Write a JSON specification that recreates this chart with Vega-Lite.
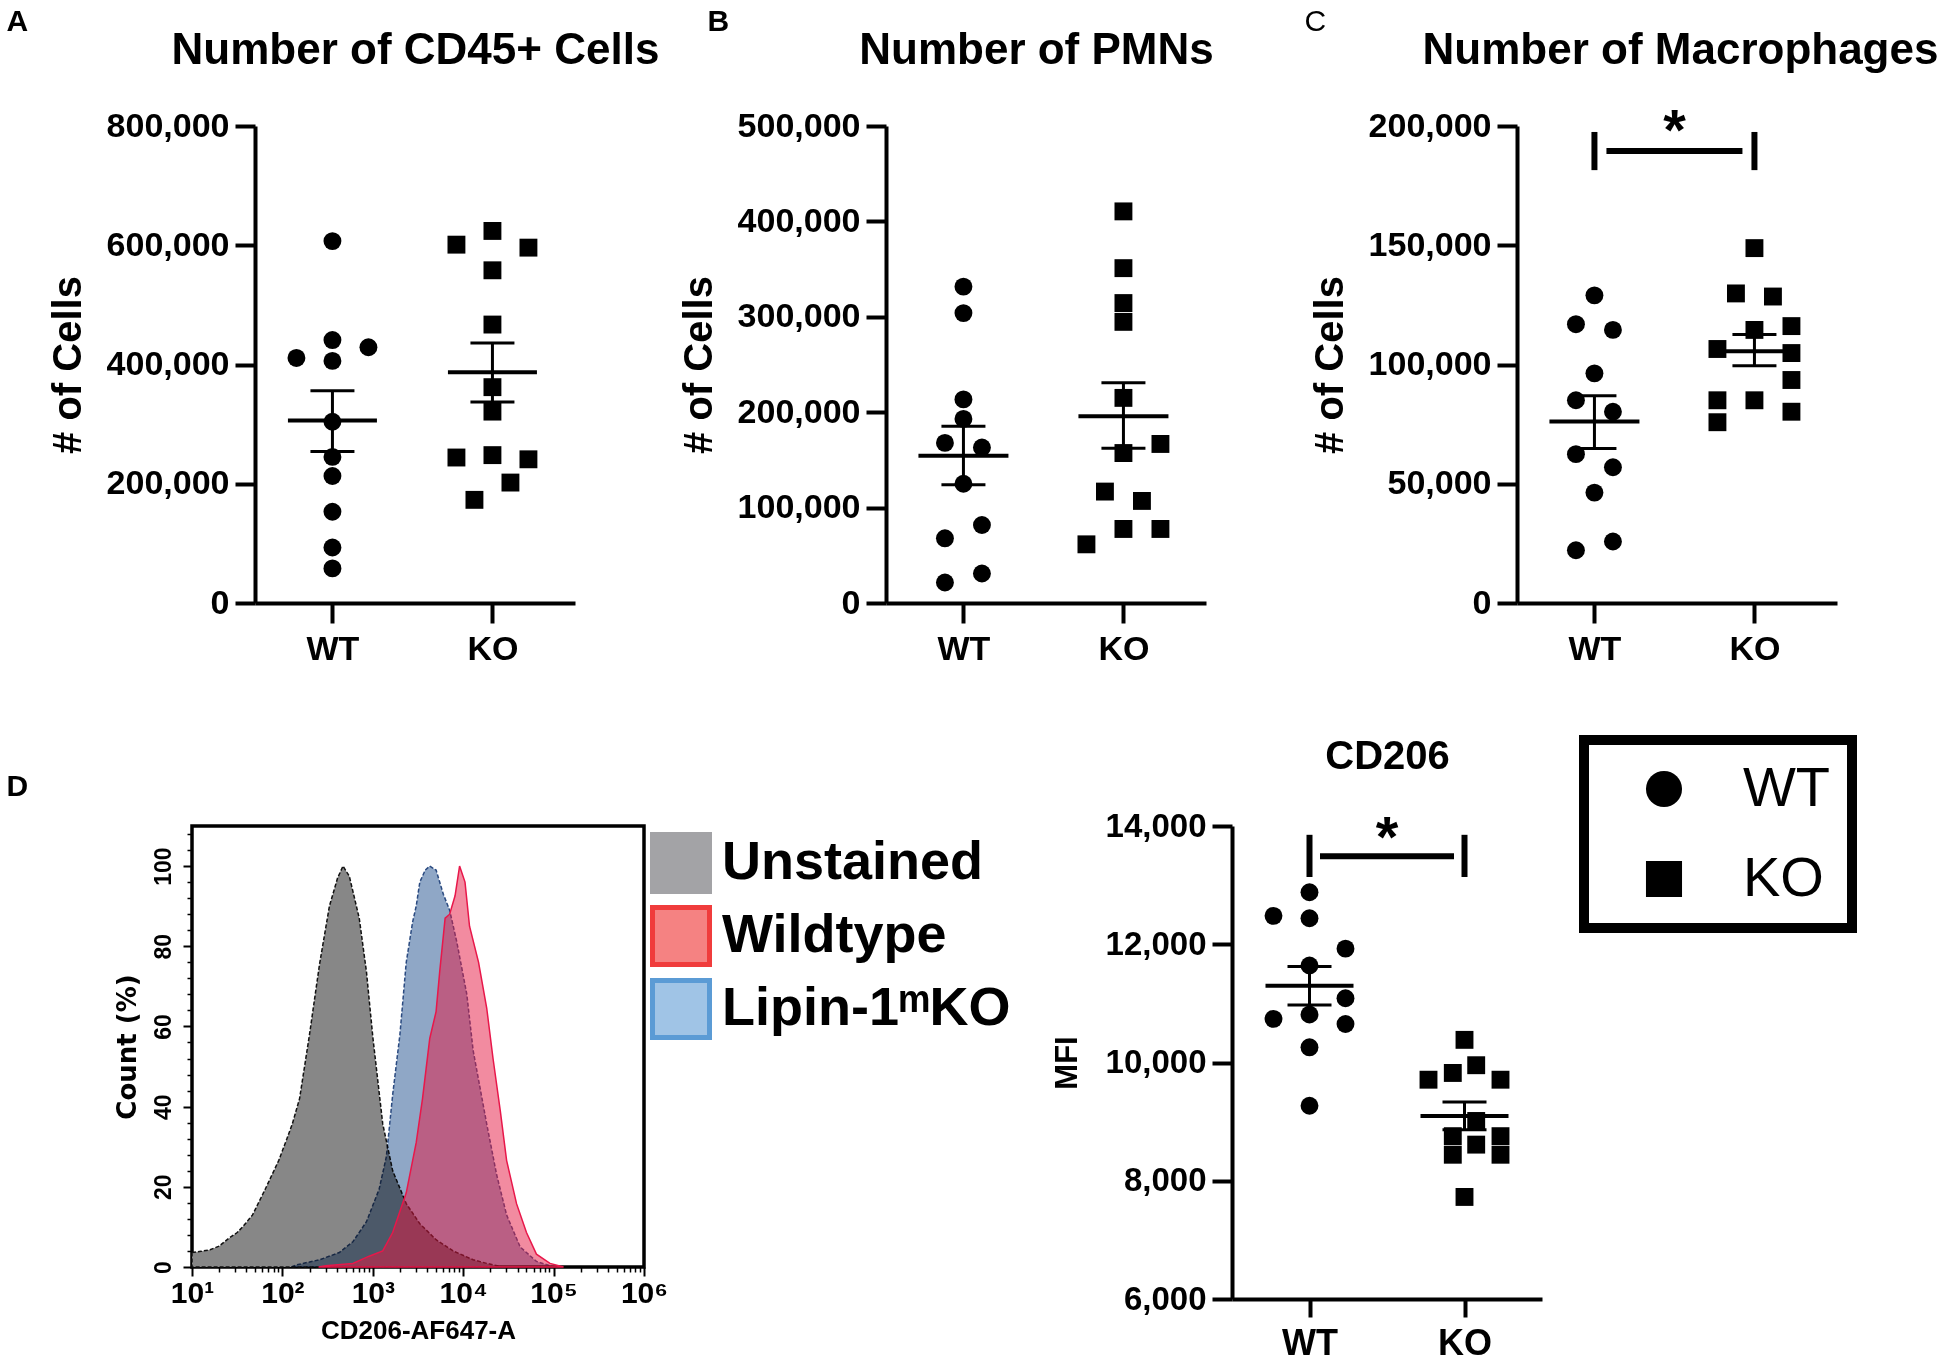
{
  "$schema": "https://vega.github.io/schema/vega-lite/v6.json",
  "background": "white",
  "padding": {"left": 4, "top": 6, "right": 0, "bottom": 0},
  "config": {
    "font": "Liberation Sans",
    "view": {"stroke": null},
    "axis": {"grid": false, "domainColor": "#000000", "tickColor": "#000000", "labelColor": "#000000", "titleColor": "#000000", "labelFontWeight": "bold", "titleFontWeight": "bold", "labelFont": "Liberation Sans", "titleFont": "Liberation Sans"},
    "title": {"color": "#000000", "font": "Liberation Sans", "fontWeight": "bold"},
    "legend": {"strokeWidth": 10}
  },
  "datasets": {
    "pts": [
      {"panel": "A", "grp": "WT", "jit": 0, "val": 607000},
      {"panel": "A", "grp": "WT", "jit": 0, "val": 441000},
      {"panel": "A", "grp": "WT", "jit": 0, "val": 406000},
      {"panel": "A", "grp": "WT", "jit": -2, "val": 411000},
      {"panel": "A", "grp": "WT", "jit": 2, "val": 429000},
      {"panel": "A", "grp": "WT", "jit": 0, "val": 304000},
      {"panel": "A", "grp": "WT", "jit": 0, "val": 245000},
      {"panel": "A", "grp": "WT", "jit": 0, "val": 213000},
      {"panel": "A", "grp": "WT", "jit": 0, "val": 153000},
      {"panel": "A", "grp": "WT", "jit": 0, "val": 93000},
      {"panel": "A", "grp": "WT", "jit": 0, "val": 58000},
      {"panel": "A", "grp": "KO", "jit": -2, "val": 601000},
      {"panel": "A", "grp": "KO", "jit": 0, "val": 624000},
      {"panel": "A", "grp": "KO", "jit": 2, "val": 596000},
      {"panel": "A", "grp": "KO", "jit": 0, "val": 558000},
      {"panel": "A", "grp": "KO", "jit": 0, "val": 467000},
      {"panel": "A", "grp": "KO", "jit": 0, "val": 362000},
      {"panel": "A", "grp": "KO", "jit": 0, "val": 321000},
      {"panel": "A", "grp": "KO", "jit": -2, "val": 244000},
      {"panel": "A", "grp": "KO", "jit": 0, "val": 248000},
      {"panel": "A", "grp": "KO", "jit": 2, "val": 241000},
      {"panel": "A", "grp": "KO", "jit": 1, "val": 202000},
      {"panel": "A", "grp": "KO", "jit": -1, "val": 173000},
      {"panel": "B", "grp": "WT", "jit": 0, "val": 331600},
      {"panel": "B", "grp": "WT", "jit": 0, "val": 303900},
      {"panel": "B", "grp": "WT", "jit": 0, "val": 213400},
      {"panel": "B", "grp": "WT", "jit": 0, "val": 193000},
      {"panel": "B", "grp": "WT", "jit": -1, "val": 167800},
      {"panel": "B", "grp": "WT", "jit": 1, "val": 163000},
      {"panel": "B", "grp": "WT", "jit": 0, "val": 125000},
      {"panel": "B", "grp": "WT", "jit": 1, "val": 81800},
      {"panel": "B", "grp": "WT", "jit": -1, "val": 67800},
      {"panel": "B", "grp": "WT", "jit": 1, "val": 30900},
      {"panel": "B", "grp": "WT", "jit": -1, "val": 21500},
      {"panel": "B", "grp": "KO", "jit": 0, "val": 410500},
      {"panel": "B", "grp": "KO", "jit": 0, "val": 351000},
      {"panel": "B", "grp": "KO", "jit": 0, "val": 314400},
      {"panel": "B", "grp": "KO", "jit": 0, "val": 294700},
      {"panel": "B", "grp": "KO", "jit": 0, "val": 215000},
      {"panel": "B", "grp": "KO", "jit": 2, "val": 166700},
      {"panel": "B", "grp": "KO", "jit": 0, "val": 157200},
      {"panel": "B", "grp": "KO", "jit": -1, "val": 116800},
      {"panel": "B", "grp": "KO", "jit": 1, "val": 107000},
      {"panel": "B", "grp": "KO", "jit": 0, "val": 77600},
      {"panel": "B", "grp": "KO", "jit": 2, "val": 77600},
      {"panel": "B", "grp": "KO", "jit": -2, "val": 61500},
      {"panel": "C", "grp": "WT", "jit": 0, "val": 129000},
      {"panel": "C", "grp": "WT", "jit": -1, "val": 116900},
      {"panel": "C", "grp": "WT", "jit": 1, "val": 114500},
      {"panel": "C", "grp": "WT", "jit": 0, "val": 96300},
      {"panel": "C", "grp": "WT", "jit": -1, "val": 85000},
      {"panel": "C", "grp": "WT", "jit": 1, "val": 80200},
      {"panel": "C", "grp": "WT", "jit": -1, "val": 62400},
      {"panel": "C", "grp": "WT", "jit": 1, "val": 56900},
      {"panel": "C", "grp": "WT", "jit": 0, "val": 46300},
      {"panel": "C", "grp": "WT", "jit": 1, "val": 25800},
      {"panel": "C", "grp": "WT", "jit": -1, "val": 22100},
      {"panel": "C", "grp": "KO", "jit": 0, "val": 148800},
      {"panel": "C", "grp": "KO", "jit": -1, "val": 129800},
      {"panel": "C", "grp": "KO", "jit": 1, "val": 128500},
      {"panel": "C", "grp": "KO", "jit": 2, "val": 116100},
      {"panel": "C", "grp": "KO", "jit": 0, "val": 114500},
      {"panel": "C", "grp": "KO", "jit": -2, "val": 106500},
      {"panel": "C", "grp": "KO", "jit": 2, "val": 104800},
      {"panel": "C", "grp": "KO", "jit": 2, "val": 93500},
      {"panel": "C", "grp": "KO", "jit": -2, "val": 85000},
      {"panel": "C", "grp": "KO", "jit": 0, "val": 85000},
      {"panel": "C", "grp": "KO", "jit": 2, "val": 80200},
      {"panel": "C", "grp": "KO", "jit": -2, "val": 75800},
      {"panel": "CD206", "grp": "WT", "jit": 0, "val": 12879},
      {"panel": "CD206", "grp": "WT", "jit": -2, "val": 12480},
      {"panel": "CD206", "grp": "WT", "jit": 0, "val": 12440},
      {"panel": "CD206", "grp": "WT", "jit": 2, "val": 11926},
      {"panel": "CD206", "grp": "WT", "jit": 0, "val": 11640},
      {"panel": "CD206", "grp": "WT", "jit": 2, "val": 11086},
      {"panel": "CD206", "grp": "WT", "jit": -2, "val": 10737},
      {"panel": "CD206", "grp": "WT", "jit": 0, "val": 10811},
      {"panel": "CD206", "grp": "WT", "jit": 2, "val": 10651},
      {"panel": "CD206", "grp": "WT", "jit": 0, "val": 10257},
      {"panel": "CD206", "grp": "WT", "jit": 0, "val": 9269},
      {"panel": "CD206", "grp": "KO", "jit": 0, "val": 10383},
      {"panel": "CD206", "grp": "KO", "jit": 0.65, "val": 9954},
      {"panel": "CD206", "grp": "KO", "jit": -0.65, "val": 9823},
      {"panel": "CD206", "grp": "KO", "jit": -2, "val": 9709},
      {"panel": "CD206", "grp": "KO", "jit": 2, "val": 9709},
      {"panel": "CD206", "grp": "KO", "jit": 0.65, "val": 9011},
      {"panel": "CD206", "grp": "KO", "jit": -0.65, "val": 8754},
      {"panel": "CD206", "grp": "KO", "jit": -0.65, "val": 8440},
      {"panel": "CD206", "grp": "KO", "jit": 0.65, "val": 8611},
      {"panel": "CD206", "grp": "KO", "jit": 2, "val": 8754},
      {"panel": "CD206", "grp": "KO", "jit": 2, "val": 8440},
      {"panel": "CD206", "grp": "KO", "jit": 0, "val": 7726}
    ],
    "summ": [
      {"panel": "A", "grp": "WT", "mean": 306000, "lo": 254000, "hi": 356000},
      {"panel": "A", "grp": "KO", "mean": 387000, "lo": 337000, "hi": 436000},
      {"panel": "B", "grp": "WT", "mean": 154400, "lo": 123900, "hi": 185300},
      {"panel": "B", "grp": "KO", "mean": 195800, "lo": 162100, "hi": 230900},
      {"panel": "C", "grp": "WT", "mean": 76100, "lo": 64800, "hi": 86900},
      {"panel": "C", "grp": "KO", "mean": 105600, "lo": 99500, "hi": 112600},
      {"panel": "CD206", "grp": "WT", "mean": 11297, "lo": 10971, "hi": 11623},
      {"panel": "CD206", "grp": "KO", "mean": 9097, "lo": 8863, "hi": 9331}
    ],
    "sig": [
      {"panel": "C", "a": "WT", "b": "KO", "mid": "WT vs KO", "by": 189500, "ylo": 181500, "yhi": 197500, "sy": 190000, "star": "*"},
      {"panel": "CD206", "a": "WT", "b": "KO", "mid": "WT vs KO", "by": 13490, "ylo": 13137, "yhi": 13851, "sy": 13483, "star": "*"}
    ],
    "hist": [
      {"series": "Unstained", "logx": 1.0, "pct": 3.6},
      {"series": "Unstained", "logx": 1.1, "pct": 3.9},
      {"series": "Unstained", "logx": 1.2, "pct": 4.3},
      {"series": "Unstained", "logx": 1.3, "pct": 5.2},
      {"series": "Unstained", "logx": 1.41, "pct": 7.2},
      {"series": "Unstained", "logx": 1.5, "pct": 8.6},
      {"series": "Unstained", "logx": 1.56, "pct": 10},
      {"series": "Unstained", "logx": 1.67, "pct": 13},
      {"series": "Unstained", "logx": 1.81, "pct": 19.4},
      {"series": "Unstained", "logx": 1.96, "pct": 26.6},
      {"series": "Unstained", "logx": 2.05, "pct": 32},
      {"series": "Unstained", "logx": 2.11, "pct": 35.7},
      {"series": "Unstained", "logx": 2.19, "pct": 42},
      {"series": "Unstained", "logx": 2.3, "pct": 58},
      {"series": "Unstained", "logx": 2.41, "pct": 75.4},
      {"series": "Unstained", "logx": 2.52, "pct": 90},
      {"series": "Unstained", "logx": 2.61, "pct": 97},
      {"series": "Unstained", "logx": 2.67, "pct": 100},
      {"series": "Unstained", "logx": 2.74, "pct": 97.5},
      {"series": "Unstained", "logx": 2.85, "pct": 87},
      {"series": "Unstained", "logx": 2.93, "pct": 73.6},
      {"series": "Unstained", "logx": 3.0, "pct": 57.4},
      {"series": "Unstained", "logx": 3.11, "pct": 35.7},
      {"series": "Unstained", "logx": 3.22, "pct": 24},
      {"series": "Unstained", "logx": 3.37, "pct": 15.8},
      {"series": "Unstained", "logx": 3.52, "pct": 10.8},
      {"series": "Unstained", "logx": 3.7, "pct": 6.8},
      {"series": "Unstained", "logx": 3.89, "pct": 4},
      {"series": "Unstained", "logx": 4.11, "pct": 1.8},
      {"series": "Unstained", "logx": 4.26, "pct": 0.9},
      {"series": "Unstained", "logx": 4.44, "pct": 0},
      {"series": "Lipin-1ᵐKO", "logx": 2.1, "pct": 0},
      {"series": "Lipin-1ᵐKO", "logx": 2.15, "pct": 0.5},
      {"series": "Lipin-1ᵐKO", "logx": 2.41, "pct": 1.8},
      {"series": "Lipin-1ᵐKO", "logx": 2.63, "pct": 3.6},
      {"series": "Lipin-1ᵐKO", "logx": 2.78, "pct": 6.3},
      {"series": "Lipin-1ᵐKO", "logx": 2.93, "pct": 11.3},
      {"series": "Lipin-1ᵐKO", "logx": 3.07, "pct": 19.4},
      {"series": "Lipin-1ᵐKO", "logx": 3.15, "pct": 27.5},
      {"series": "Lipin-1ᵐKO", "logx": 3.22, "pct": 43},
      {"series": "Lipin-1ᵐKO", "logx": 3.3, "pct": 58},
      {"series": "Lipin-1ᵐKO", "logx": 3.37, "pct": 76},
      {"series": "Lipin-1ᵐKO", "logx": 3.44, "pct": 86},
      {"series": "Lipin-1ᵐKO", "logx": 3.48, "pct": 90},
      {"series": "Lipin-1ᵐKO", "logx": 3.52, "pct": 96},
      {"series": "Lipin-1ᵐKO", "logx": 3.58, "pct": 99},
      {"series": "Lipin-1ᵐKO", "logx": 3.63, "pct": 100},
      {"series": "Lipin-1ᵐKO", "logx": 3.7, "pct": 99},
      {"series": "Lipin-1ᵐKO", "logx": 3.78, "pct": 93},
      {"series": "Lipin-1ᵐKO", "logx": 3.85, "pct": 89},
      {"series": "Lipin-1ᵐKO", "logx": 3.93, "pct": 81},
      {"series": "Lipin-1ᵐKO", "logx": 4.04, "pct": 68},
      {"series": "Lipin-1ᵐKO", "logx": 4.11, "pct": 54},
      {"series": "Lipin-1ᵐKO", "logx": 4.26, "pct": 35.7},
      {"series": "Lipin-1ᵐKO", "logx": 4.37, "pct": 23},
      {"series": "Lipin-1ᵐKO", "logx": 4.48, "pct": 13},
      {"series": "Lipin-1ᵐKO", "logx": 4.63, "pct": 5},
      {"series": "Lipin-1ᵐKO", "logx": 4.81, "pct": 1.4},
      {"series": "Lipin-1ᵐKO", "logx": 4.96, "pct": 0.3},
      {"series": "Lipin-1ᵐKO", "logx": 5.0, "pct": 0},
      {"series": "Wildtype", "logx": 2.4, "pct": 0},
      {"series": "Wildtype", "logx": 2.48, "pct": 0.3},
      {"series": "Wildtype", "logx": 2.78, "pct": 0.9},
      {"series": "Wildtype", "logx": 2.96, "pct": 2.7},
      {"series": "Wildtype", "logx": 3.11, "pct": 4},
      {"series": "Wildtype", "logx": 3.22, "pct": 8.6},
      {"series": "Wildtype", "logx": 3.37, "pct": 18.5},
      {"series": "Wildtype", "logx": 3.48, "pct": 31},
      {"series": "Wildtype", "logx": 3.55, "pct": 42},
      {"series": "Wildtype", "logx": 3.63, "pct": 57},
      {"series": "Wildtype", "logx": 3.7, "pct": 63.7},
      {"series": "Wildtype", "logx": 3.74, "pct": 73.6},
      {"series": "Wildtype", "logx": 3.8, "pct": 87},
      {"series": "Wildtype", "logx": 3.85, "pct": 88},
      {"series": "Wildtype", "logx": 3.91, "pct": 92.6},
      {"series": "Wildtype", "logx": 3.96, "pct": 100},
      {"series": "Wildtype", "logx": 4.02, "pct": 96},
      {"series": "Wildtype", "logx": 4.07, "pct": 85},
      {"series": "Wildtype", "logx": 4.17, "pct": 76},
      {"series": "Wildtype", "logx": 4.26, "pct": 64.6},
      {"series": "Wildtype", "logx": 4.33, "pct": 52},
      {"series": "Wildtype", "logx": 4.41, "pct": 39},
      {"series": "Wildtype", "logx": 4.48, "pct": 26.6},
      {"series": "Wildtype", "logx": 4.59, "pct": 15.8},
      {"series": "Wildtype", "logx": 4.7, "pct": 8.6},
      {"series": "Wildtype", "logx": 4.81, "pct": 3.2},
      {"series": "Wildtype", "logx": 4.96, "pct": 0.9},
      {"series": "Wildtype", "logx": 5.11, "pct": 0}
    ],
    "hleg": [
      {"series": "Unstained"},
      {"series": "Wildtype"},
      {"series": "Lipin-1ᵐKO"}
    ]
  },
  "resolve": {"scale": {"x": "independent", "y": "independent", "xOffset": "independent", "shape": "independent", "fill": "independent", "stroke": "independent"}, "axis": {"x": "independent", "y": "independent"}, "legend": {"shape": "independent"}},
  "spacing": 69,
  "vconcat": [
    {
      "hconcat": [
        {
          "width": 383, "height": 477,
          "resolve": {"axis": {"x": "independent", "y": "independent"}},
          "layer": [
            {
              "data": {"name": "pts"},
              "transform": [{"filter": "datum.panel === 'A'"}],
              "mark": {"type": "point", "filled": true, "size": 320, "color": "black", "opacity": 1, "strokeWidth": 0},
              "encoding": {
                "x": {"field": "grp", "type": "nominal", "scale": {"type": "point", "domain": ["WT", "WT vs KO", "KO"], "range": [63, 383], "padding": 1.353, "align": 0.484}, "axis": {"values": ["WT", "KO"], "title": null, "labelAngle": 0, "labelFontSize": 34, "labelPadding": 9, "tickSize": 20, "tickWidth": 4, "domainWidth": 4}},
                "xOffset": {"field": "jit", "type": "quantitative", "scale": {"domain": [-2, 2], "range": [-36, 36]}},
                "y": {"field": "val", "type": "quantitative", "scale": {"domain": [0, 800000], "nice": false}, "axis": {"offset": -63, "values": [0, 200000, 400000, 600000, 800000], "format": ",d", "title": "# of  Cells", "titleFontSize": 40, "titlePadding": 18, "labelFontSize": 34, "labelPadding": 6, "tickSize": 20, "tickWidth": 4, "domainWidth": 4}},
                "shape": {"field": "grp", "type": "nominal", "scale": {"domain": ["WT", "KO"], "range": ["circle", "square"]}, "legend": null}
              }
            },
            {
              "data": {"name": "summ"},
              "transform": [{"filter": "datum.panel === 'A'"}],
              "mark": {"type": "tick", "size": 89, "thickness": 4, "color": "black", "opacity": 1},
              "encoding": {
                "x": {"field": "grp", "type": "nominal", "scale": {"type": "point", "domain": ["WT", "WT vs KO", "KO"], "range": [63, 383], "padding": 1.353, "align": 0.484}, "axis": {"orient": "top", "title": "Number of CD45+ Cells", "titleX": 223, "titleY": -63, "titleAlign": "center", "titleBaseline": "alphabetic", "titleFontSize": 44, "titleFontWeight": "bold", "domain": false, "ticks": false, "labels": false, "grid": false}},
                "y": {"field": "mean", "type": "quantitative", "axis": null}
              }
            },
            {
              "data": {"name": "summ"},
              "transform": [{"filter": "datum.panel === 'A'"}],
              "mark": {"type": "rule", "strokeWidth": 3, "color": "black"},
              "encoding": {
                "x": {"field": "grp", "type": "nominal", "scale": {"type": "point", "domain": ["WT", "WT vs KO", "KO"], "range": [63, 383], "padding": 1.353, "align": 0.484}, "axis": null},
                "y": {"field": "lo", "type": "quantitative", "axis": null},
                "y2": {"field": "hi"}
              }
            },
            {
              "data": {"name": "summ"},
              "transform": [{"filter": "datum.panel === 'A'"}],
              "mark": {"type": "tick", "size": 44, "thickness": 3, "color": "black", "opacity": 1},
              "encoding": {
                "x": {"field": "grp", "type": "nominal", "scale": {"type": "point", "domain": ["WT", "WT vs KO", "KO"], "range": [63, 383], "padding": 1.353, "align": 0.484}, "axis": null},
                "y": {"field": "lo", "type": "quantitative", "axis": null}
              }
            },
            {
              "data": {"name": "summ"},
              "transform": [{"filter": "datum.panel === 'A'"}],
              "mark": {"type": "tick", "size": 44, "thickness": 3, "color": "black", "opacity": 1},
              "encoding": {
                "x": {"field": "grp", "type": "nominal", "scale": {"type": "point", "domain": ["WT", "WT vs KO", "KO"], "range": [63, 383], "padding": 1.353, "align": 0.484}, "axis": null},
                "y": {"field": "hi", "type": "quantitative", "axis": {"orient": "right", "title": "A", "titleAngle": 0, "titleX": -569, "titleY": -96, "titleAlign": "left", "titleBaseline": "alphabetic", "titleFontSize": 30, "titleFontWeight": "bold", "domain": false, "ticks": false, "labels": false, "grid": false}}
              }
            }
          ]
        },
        {
          "width": 320, "height": 477,
          "resolve": {"axis": {"x": "independent", "y": "independent"}},
          "layer": [
            {
              "data": {"name": "pts"},
              "transform": [{"filter": "datum.panel === 'B'"}],
              "mark": {"type": "point", "filled": true, "size": 320, "color": "black", "opacity": 1, "strokeWidth": 0},
              "encoding": {
                "x": {"field": "grp", "type": "nominal", "scale": {"type": "point", "domain": ["WT", "WT vs KO", "KO"], "padding": 1.353, "align": 0.484}, "axis": {"values": ["WT", "KO"], "title": null, "labelAngle": 0, "labelFontSize": 34, "labelPadding": 9, "tickSize": 20, "tickWidth": 4, "domainWidth": 4}},
                "xOffset": {"field": "jit", "type": "quantitative", "scale": {"domain": [-2, 2], "range": [-37, 37]}},
                "y": {"field": "val", "type": "quantitative", "scale": {"domain": [0, 500000], "nice": false}, "axis": {"values": [0, 100000, 200000, 300000, 400000, 500000], "format": ",d", "title": "# of  Cells", "titleFontSize": 40, "titlePadding": 18, "labelFontSize": 34, "labelPadding": 6, "tickSize": 20, "tickWidth": 4, "domainWidth": 4}},
                "shape": {"field": "grp", "type": "nominal", "scale": {"domain": ["WT", "KO"], "range": ["circle", "square"]}, "legend": null}
              }
            },
            {
              "data": {"name": "summ"},
              "transform": [{"filter": "datum.panel === 'B'"}],
              "mark": {"type": "tick", "size": 90, "thickness": 4, "color": "black", "opacity": 1},
              "encoding": {
                "x": {"field": "grp", "type": "nominal", "scale": {"type": "point", "domain": ["WT", "WT vs KO", "KO"], "padding": 1.353, "align": 0.484}, "axis": {"orient": "top", "title": "Number of PMNs", "titleX": 150, "titleY": -63, "titleAlign": "center", "titleBaseline": "alphabetic", "titleFontSize": 44, "titleFontWeight": "bold", "domain": false, "ticks": false, "labels": false, "grid": false}},
                "y": {"field": "mean", "type": "quantitative", "axis": null}
              }
            },
            {
              "data": {"name": "summ"},
              "transform": [{"filter": "datum.panel === 'B'"}],
              "mark": {"type": "rule", "strokeWidth": 3, "color": "black"},
              "encoding": {
                "x": {"field": "grp", "type": "nominal", "scale": {"type": "point", "domain": ["WT", "WT vs KO", "KO"], "padding": 1.353, "align": 0.484}, "axis": null},
                "y": {"field": "lo", "type": "quantitative", "axis": null},
                "y2": {"field": "hi"}
              }
            },
            {
              "data": {"name": "summ"},
              "transform": [{"filter": "datum.panel === 'B'"}],
              "mark": {"type": "tick", "size": 44, "thickness": 3, "color": "black", "opacity": 1},
              "encoding": {
                "x": {"field": "grp", "type": "nominal", "scale": {"type": "point", "domain": ["WT", "WT vs KO", "KO"], "padding": 1.353, "align": 0.484}, "axis": null},
                "y": {"field": "lo", "type": "quantitative", "axis": null}
              }
            },
            {
              "data": {"name": "summ"},
              "transform": [{"filter": "datum.panel === 'B'"}],
              "mark": {"type": "tick", "size": 44, "thickness": 3, "color": "black", "opacity": 1},
              "encoding": {
                "x": {"field": "grp", "type": "nominal", "scale": {"type": "point", "domain": ["WT", "WT vs KO", "KO"], "padding": 1.353, "align": 0.484}, "axis": null},
                "y": {"field": "hi", "type": "quantitative", "axis": {"orient": "right", "title": "B", "titleAngle": 0, "titleX": -499, "titleY": -96, "titleAlign": "left", "titleBaseline": "alphabetic", "titleFontSize": 30, "titleFontWeight": "bold", "domain": false, "ticks": false, "labels": false, "grid": false}}
              }
            }
          ]
        },
        {
          "width": 320, "height": 477,
          "resolve": {"axis": {"x": "independent", "y": "independent"}},
          "layer": [
            {
              "data": {"name": "pts"},
              "transform": [{"filter": "datum.panel === 'C'"}],
              "mark": {"type": "point", "filled": true, "size": 320, "color": "black", "opacity": 1, "strokeWidth": 0},
              "encoding": {
                "x": {"field": "grp", "type": "nominal", "scale": {"type": "point", "domain": ["WT", "WT vs KO", "KO"], "padding": 1.353, "align": 0.484}, "axis": {"values": ["WT", "KO"], "title": null, "labelAngle": 0, "labelFontSize": 34, "labelPadding": 9, "tickSize": 20, "tickWidth": 4, "domainWidth": 4}},
                "xOffset": {"field": "jit", "type": "quantitative", "scale": {"domain": [-2, 2], "range": [-37, 37]}},
                "y": {"field": "val", "type": "quantitative", "scale": {"domain": [0, 200000], "nice": false}, "axis": {"values": [0, 50000, 100000, 150000, 200000], "format": ",d", "title": "# of  Cells", "titleFontSize": 40, "titlePadding": 18, "labelFontSize": 34, "labelPadding": 6, "tickSize": 20, "tickWidth": 4, "domainWidth": 4}},
                "shape": {"field": "grp", "type": "nominal", "scale": {"domain": ["WT", "KO"], "range": ["circle", "square"]}, "legend": null}
              }
            },
            {
              "data": {"name": "summ"},
              "transform": [{"filter": "datum.panel === 'C'"}],
              "mark": {"type": "tick", "size": 90, "thickness": 4, "color": "black", "opacity": 1},
              "encoding": {
                "x": {"field": "grp", "type": "nominal", "scale": {"type": "point", "domain": ["WT", "WT vs KO", "KO"], "padding": 1.353, "align": 0.484}, "axis": {"orient": "top", "title": "Number of Macrophages", "titleX": 163, "titleY": -63, "titleAlign": "center", "titleBaseline": "alphabetic", "titleFontSize": 44, "titleFontWeight": "bold", "domain": false, "ticks": false, "labels": false, "grid": false}},
                "y": {"field": "mean", "type": "quantitative", "axis": null}
              }
            },
            {
              "data": {"name": "summ"},
              "transform": [{"filter": "datum.panel === 'C'"}],
              "mark": {"type": "rule", "strokeWidth": 3, "color": "black"},
              "encoding": {
                "x": {"field": "grp", "type": "nominal", "scale": {"type": "point", "domain": ["WT", "WT vs KO", "KO"], "padding": 1.353, "align": 0.484}, "axis": null},
                "y": {"field": "lo", "type": "quantitative", "axis": null},
                "y2": {"field": "hi"}
              }
            },
            {
              "data": {"name": "summ"},
              "transform": [{"filter": "datum.panel === 'C'"}],
              "mark": {"type": "tick", "size": 44, "thickness": 3, "color": "black", "opacity": 1},
              "encoding": {
                "x": {"field": "grp", "type": "nominal", "scale": {"type": "point", "domain": ["WT", "WT vs KO", "KO"], "padding": 1.353, "align": 0.484}, "axis": null},
                "y": {"field": "lo", "type": "quantitative", "axis": null}
              }
            },
            {
              "data": {"name": "summ"},
              "transform": [{"filter": "datum.panel === 'C'"}],
              "mark": {"type": "tick", "size": 44, "thickness": 3, "color": "black", "opacity": 1},
              "encoding": {
                "x": {"field": "grp", "type": "nominal", "scale": {"type": "point", "domain": ["WT", "WT vs KO", "KO"], "padding": 1.353, "align": 0.484}, "axis": null},
                "y": {"field": "hi", "type": "quantitative", "axis": {"orient": "right", "title": "C", "titleAngle": 0, "titleX": -533, "titleY": -96, "titleAlign": "left", "titleBaseline": "alphabetic", "titleFontSize": 30, "titleFontWeight": "normal", "domain": false, "ticks": false, "labels": false, "grid": false}}
              }
            },
            {
              "data": {"name": "sig"},
              "transform": [{"filter": "datum.panel === 'C'"}],
              "mark": {"type": "tick", "size": 136, "thickness": 6, "color": "black", "opacity": 1},
              "encoding": {
                "x": {"field": "mid", "type": "nominal", "scale": {"type": "point", "domain": ["WT", "WT vs KO", "KO"], "padding": 1.353, "align": 0.484}, "axis": null},
                "y": {"field": "by", "type": "quantitative", "axis": null}
              }
            },
            {
              "data": {"name": "sig"},
              "transform": [{"filter": "datum.panel === 'C'"}],
              "mark": {"type": "rule", "strokeWidth": 6, "color": "black"},
              "encoding": {
                "x": {"field": "a", "type": "nominal", "scale": {"type": "point", "domain": ["WT", "WT vs KO", "KO"], "padding": 1.353, "align": 0.484}, "axis": null},
                "y": {"field": "ylo", "type": "quantitative", "axis": null},
                "y2": {"field": "yhi"}
              }
            },
            {
              "data": {"name": "sig"},
              "transform": [{"filter": "datum.panel === 'C'"}],
              "mark": {"type": "rule", "strokeWidth": 6, "color": "black"},
              "encoding": {
                "x": {"field": "b", "type": "nominal", "scale": {"type": "point", "domain": ["WT", "WT vs KO", "KO"], "padding": 1.353, "align": 0.484}, "axis": null},
                "y": {"field": "ylo", "type": "quantitative", "axis": null},
                "y2": {"field": "yhi"}
              }
            },
            {
              "data": {"name": "sig"},
              "transform": [{"filter": "datum.panel === 'C'"}],
              "mark": {"type": "text", "fontSize": 58, "fontWeight": "bold", "baseline": "alphabetic", "align": "center", "color": "black"},
              "encoding": {
                "x": {"field": "mid", "type": "nominal", "scale": {"type": "point", "domain": ["WT", "WT vs KO", "KO"], "padding": 1.353, "align": 0.484}, "axis": null},
                "y": {"field": "sy", "type": "quantitative", "axis": null},
                "text": {"field": "star"}
              }
            }
          ]
        }
      ],
      "spacing": 311,
      "bounds": "flush",
      "resolve": {"scale": {"x": "independent", "y": "independent", "xOffset": "independent", "shape": "independent"}, "axis": {"x": "independent", "y": "independent"}}
    },
    {
      "hconcat": [
        {
          "width": 452, "height": 441,
          "view": {"stroke": "black", "strokeWidth": 3.5},
          "data": {"name": "hist"},
          "resolve": {"axis": {"x": "independent", "y": "independent"}},
          "layer": [
            {
              "transform": [{"filter": "datum.series === 'Unstained'"}],
              "mark": {"type": "area", "color": "#878787", "stroke": "#111111", "strokeWidth": 1.5, "strokeDash": [4, 2], "opacity": 1},
              "encoding": {
                "x": {"field": "logx", "type": "quantitative", "scale": {"domain": [1, 6], "nice": false, "zero": false}, "axis": {"orient": "bottom", "values": [1, 2, 3, 4, 5, 6], "labelExpr": "datum.value == 1 ? '10¹' : datum.value == 2 ? '10²' : datum.value == 3 ? '10³' : datum.value == 4 ? '10⁴' : datum.value == 5 ? '10⁵' : '10⁶'", "labelFlush": false, "domain": false, "tickSize": 9, "tickWidth": 2, "labelFontSize": 30, "labelPadding": 2, "title": "CD206-AF647-A", "titleFontSize": 26, "titlePadding": 9}},
                "y": {"field": "pct", "type": "quantitative", "scale": {"domain": [0, 110], "nice": false}, "axis": {"orient": "left", "values": [0, 20, 40, 60, 80, 100], "domain": false, "tickSize": 9, "tickWidth": 2, "labelAngle": -90, "labelAlign": "center", "labelBaseline": "bottom", "labelFontSize": 23, "labelPadding": 8, "title": "Count (%)", "titleFont": "DejaVu Sans", "titleFontSize": 26, "titlePadding": 12}}
              }
            },
            {
              "transform": [{"filter": "datum.series === 'Lipin-1ᵐKO'"}],
              "mark": {"type": "area", "color": "#8fa7c6", "blend": "multiply", "stroke": "#2a4a80", "strokeWidth": 1.5, "strokeDash": [4, 2], "opacity": 1},
              "encoding": {
                "x": {"field": "logx", "type": "quantitative", "axis": {"orient": "bottom", "values": [1.301, 1.477, 1.602, 1.699, 1.778, 1.845, 1.903, 1.954, 2.301, 2.477, 2.602, 2.699, 2.778, 2.845, 2.903, 2.954, 3.301, 3.477, 3.602, 3.699, 3.778, 3.845, 3.903, 3.954, 4.301, 4.477, 4.602, 4.699, 4.778, 4.845, 4.903, 4.954, 5.301, 5.477, 5.602, 5.699, 5.778, 5.845, 5.903, 5.954], "labels": false, "domain": false, "tickSize": 5, "tickWidth": 1.5, "title": null}},
                "y": {"field": "pct", "type": "quantitative", "axis": {"orient": "left", "values": [4, 8, 12, 16, 24, 28, 32, 36, 44, 48, 52, 56, 64, 68, 72, 76, 84, 88, 92, 96, 104, 108], "labels": false, "domain": false, "tickSize": 5, "tickWidth": 1.5, "title": null}}
              }
            },
            {
              "transform": [{"filter": "datum.series === 'Wildtype'"}],
              "mark": {"type": "area", "color": "#e51741", "fillOpacity": 0.5, "stroke": "#e8174a", "strokeWidth": 1.5},
              "encoding": {
                "x": {"field": "logx", "type": "quantitative", "axis": {"orient": "top", "title": "D", "titleX": -186, "titleY": -31, "titleAlign": "left", "titleBaseline": "alphabetic", "titleFontSize": 30, "titleFontWeight": "bold", "domain": false, "ticks": false, "labels": false, "grid": false}},
                "y": {"field": "pct", "type": "quantitative", "axis": null}
              }
            }
          ]
        },
        {
          "width": 580, "height": 220,
          "data": {"name": "hleg"},
          "layer": [
            {
              "mark": {"type": "point", "shape": "square", "size": 3249, "filled": true, "strokeWidth": 5, "opacity": 1},
              "encoding": {
                "x": {"datum": 5.69, "type": "quantitative", "scale": {"domain": [0, 100]}, "axis": null},
                "y": {"field": "series", "type": "nominal", "scale": {"type": "point", "domain": ["Unstained", "Wildtype", "Lipin-1ᵐKO"], "padding": 0.507}, "axis": null},
                "fill": {"field": "series", "type": "nominal", "scale": {"domain": ["Unstained", "Wildtype", "Lipin-1ᵐKO"], "range": ["#a3a3a6", "#f58282", "#a0c4e6"]}, "legend": null},
                "stroke": {"field": "series", "type": "nominal", "scale": {"domain": ["Unstained", "Wildtype", "Lipin-1ᵐKO"], "range": ["#a3a3a6", "#f03c3c", "#5b9bd5"]}, "legend": null}
              }
            },
            {
              "mark": {"type": "text", "align": "left", "baseline": "middle", "fontSize": 54, "fontWeight": "bold", "color": "black"},
              "encoding": {
                "x": {"datum": 12.76, "type": "quantitative"},
                "y": {"field": "series", "type": "nominal"},
                "text": {"field": "series"}
              }
            }
          ]
        },
        {
          "width": 310, "height": 473,
          "resolve": {"axis": {"x": "independent", "y": "independent"}},
          "layer": [
            {
              "data": {"name": "pts"},
              "transform": [{"filter": "datum.panel === 'CD206'"}],
              "mark": {"type": "point", "filled": true, "size": 320, "color": "black", "opacity": 1, "strokeWidth": 0},
              "encoding": {
                "x": {"field": "grp", "type": "nominal", "scale": {"type": "point", "domain": ["WT", "WT vs KO", "KO"], "padding": 1.313, "align": 0.5}, "axis": {"values": ["WT", "KO"], "title": null, "labelAngle": 0, "labelFontSize": 36, "labelPadding": 9, "tickSize": 18, "tickWidth": 4, "domainWidth": 4}},
                "xOffset": {"field": "jit", "type": "quantitative", "scale": {"domain": [-2, 2], "range": [-36, 36]}},
                "y": {"field": "val", "type": "quantitative", "scale": {"domain": [6000, 14000], "nice": false, "zero": false}, "axis": {"values": [6000, 8000, 10000, 12000, 14000], "format": ",d", "title": "MFI", "titleFontSize": 31, "titlePadding": 22, "labelFontSize": 33, "labelPadding": 6, "tickSize": 20, "tickWidth": 4, "domainWidth": 4}},
                "shape": {"field": "grp", "type": "nominal", "scale": {"domain": ["WT", "KO"], "range": ["circle", "square"]}, "legend": {"orient": "none", "legendX": 352, "legendY": -86, "title": null, "strokeColor": "black", "fillColor": "white", "padding": 21, "symbolOffset": 31, "symbolSize": 1300, "symbolFillColor": "black", "symbolStrokeColor": "black", "symbolStrokeWidth": 0, "symbolOpacity": 1, "labelFontSize": 56, "labelFontWeight": "normal", "labelFont": "Liberation Sans", "labelColor": "black", "labelOffset": 51, "rowPadding": 34}}
              }
            },
            {
              "data": {"name": "summ"},
              "transform": [{"filter": "datum.panel === 'CD206'"}],
              "mark": {"type": "tick", "size": 88, "thickness": 4, "color": "black", "opacity": 1},
              "encoding": {
                "x": {"field": "grp", "type": "nominal", "scale": {"type": "point", "domain": ["WT", "WT vs KO", "KO"], "padding": 1.313, "align": 0.5}, "axis": {"orient": "top", "title": "CD206", "titleX": 155, "titleY": -58, "titleAlign": "center", "titleBaseline": "alphabetic", "titleFontSize": 40, "titleFontWeight": "bold", "domain": false, "ticks": false, "labels": false, "grid": false}},
                "y": {"field": "mean", "type": "quantitative", "axis": null}
              }
            },
            {
              "data": {"name": "summ"},
              "transform": [{"filter": "datum.panel === 'CD206'"}],
              "mark": {"type": "rule", "strokeWidth": 3, "color": "black"},
              "encoding": {
                "x": {"field": "grp", "type": "nominal", "scale": {"type": "point", "domain": ["WT", "WT vs KO", "KO"], "padding": 1.313, "align": 0.5}, "axis": null},
                "y": {"field": "lo", "type": "quantitative", "axis": null},
                "y2": {"field": "hi"}
              }
            },
            {
              "data": {"name": "summ"},
              "transform": [{"filter": "datum.panel === 'CD206'"}],
              "mark": {"type": "tick", "size": 44, "thickness": 3, "color": "black", "opacity": 1},
              "encoding": {
                "x": {"field": "grp", "type": "nominal", "scale": {"type": "point", "domain": ["WT", "WT vs KO", "KO"], "padding": 1.313, "align": 0.5}, "axis": null},
                "y": {"field": "lo", "type": "quantitative", "axis": null}
              }
            },
            {
              "data": {"name": "summ"},
              "transform": [{"filter": "datum.panel === 'CD206'"}],
              "mark": {"type": "tick", "size": 44, "thickness": 3, "color": "black", "opacity": 1},
              "encoding": {
                "x": {"field": "grp", "type": "nominal", "scale": {"type": "point", "domain": ["WT", "WT vs KO", "KO"], "padding": 1.313, "align": 0.5}, "axis": null},
                "y": {"field": "hi", "type": "quantitative", "axis": null}
              }
            },
            {
              "data": {"name": "sig"},
              "transform": [{"filter": "datum.panel === 'CD206'"}],
              "mark": {"type": "tick", "size": 134, "thickness": 6, "color": "black", "opacity": 1},
              "encoding": {
                "x": {"field": "mid", "type": "nominal", "scale": {"type": "point", "domain": ["WT", "WT vs KO", "KO"], "padding": 1.313, "align": 0.5}, "axis": null},
                "y": {"field": "by", "type": "quantitative", "axis": null}
              }
            },
            {
              "data": {"name": "sig"},
              "transform": [{"filter": "datum.panel === 'CD206'"}],
              "mark": {"type": "rule", "strokeWidth": 6, "color": "black"},
              "encoding": {
                "x": {"field": "a", "type": "nominal", "scale": {"type": "point", "domain": ["WT", "WT vs KO", "KO"], "padding": 1.313, "align": 0.5}, "axis": null},
                "y": {"field": "ylo", "type": "quantitative", "axis": null},
                "y2": {"field": "yhi"}
              }
            },
            {
              "data": {"name": "sig"},
              "transform": [{"filter": "datum.panel === 'CD206'"}],
              "mark": {"type": "rule", "strokeWidth": 6, "color": "black"},
              "encoding": {
                "x": {"field": "b", "type": "nominal", "scale": {"type": "point", "domain": ["WT", "WT vs KO", "KO"], "padding": 1.313, "align": 0.5}, "axis": null},
                "y": {"field": "ylo", "type": "quantitative", "axis": null},
                "y2": {"field": "yhi"}
              }
            },
            {
              "data": {"name": "sig"},
              "transform": [{"filter": "datum.panel === 'CD206'"}],
              "mark": {"type": "text", "fontSize": 58, "fontWeight": "bold", "baseline": "alphabetic", "align": "center", "color": "black"},
              "encoding": {
                "x": {"field": "mid", "type": "nominal", "scale": {"type": "point", "domain": ["WT", "WT vs KO", "KO"], "padding": 1.313, "align": 0.5}, "axis": null},
                "y": {"field": "sy", "type": "quantitative", "axis": null},
                "text": {"field": "star"}
              }
            }
          ]
        }
      ],
      "spacing": 4,
      "bounds": "flush",
      "resolve": {"scale": {"x": "independent", "y": "independent", "xOffset": "independent", "shape": "independent", "fill": "independent", "stroke": "independent"}, "axis": {"x": "independent", "y": "independent"}, "legend": {"shape": "independent", "fill": "independent", "stroke": "independent"}}
    }
  ]
}
